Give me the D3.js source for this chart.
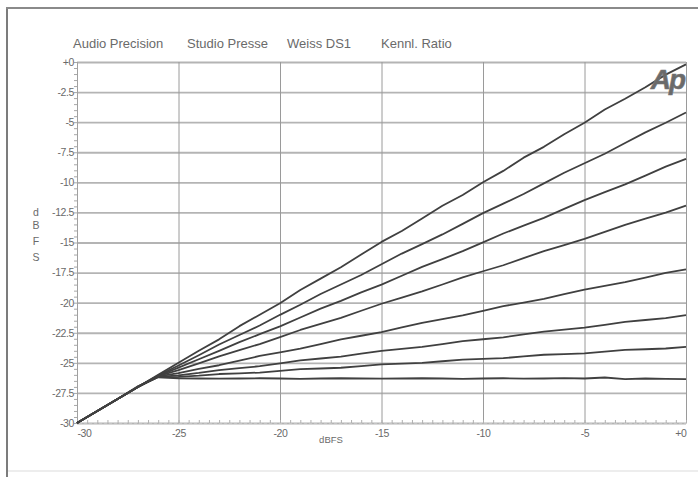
<!DOCTYPE html>
<html>
<head>
<meta charset="utf-8">
<script src="https://cdn.jsdelivr.net/npm/d3@7"></script>
<style>
  body { margin: 0; background: #fff; }
  text { font-family: "Liberation Sans", Arial, sans-serif; fill: #6a6a6a; }
</style>
</head>
<body>
<div id="chart"></div>
<script>
// input level (dBFS) at which every curve was read
const inputLevel = [-30, -29, -28, -27, -26, -25, -24, -23, -22, -21, -20, -19, -18, -17, -16,
  -15, -14, -13, -12, -11, -10, -9, -8, -7, -6, -5, -4, -3, -2, -1, 0];

// output level (dBFS) of each ratio curve, top to bottom
const curve1 = [-30, -29, -28, -27, -26, -25, -24, -23.05, -21.95, -21, -20.05, -18.95, -18, -17.05, -16,
  -14.95, -14.05, -13, -11.95, -11.05, -10, -9.05, -7.95, -7.05, -6, -5.05, -3.95, -3.05, -2.1, -1.05, -0.2];
const curve2 = [-30, -29, -28, -27, -26.05, -25.22, -24.37, -23.48, -22.69, -21.9, -21.01, -20.17, -19.28, -18.49, -17.7,
  -16.81, -15.92, -15.13, -14.33, -13.45, -12.56, -11.77, -10.97, -10.09, -9.2, -8.41, -7.62, -6.73, -5.85, -5.05, -4.2];
const curve3 = [-30, -29, -28, -27, -26.08, -25.4, -24.7, -24.01, -23.28, -22.62, -21.97, -21.23, -20.5, -19.85, -19.15,
  -18.5, -17.76, -17.03, -16.38, -15.72, -14.99, -14.25, -13.6, -12.95, -12.21, -11.48, -10.82, -10.17, -9.44, -8.7, -8.05];
const curve4 = [-30, -29, -28, -27, -26.1, -25.6, -25.04, -24.46, -23.95, -23.44, -22.86, -22.27, -21.76, -21.26, -20.67,
  -20.09, -19.58, -19.07, -18.49, -17.9, -17.39, -16.89, -16.3, -15.71, -15.21, -14.7, -14.12, -13.53, -13.02, -12.52, -11.93];
const curve5 = [-30, -29, -28, -27, -26.13, -25.86, -25.51, -25.2, -24.82, -24.43, -24.13, -23.82, -23.44, -23.05, -22.75,
  -22.44, -22.06, -21.67, -21.37, -21.06, -20.68, -20.29, -19.99, -19.68, -19.3, -18.91, -18.61, -18.3, -17.92, -17.53, -17.23];
const curve6 = [-30, -29, -28, -27, -26.16, -26.04, -25.84, -25.6, -25.44, -25.28, -25.04, -24.8, -24.64, -24.48, -24.24,
  -24, -23.84, -23.68, -23.44, -23.2, -23.04, -22.88, -22.64, -22.4, -22.24, -22.08, -21.84, -21.6, -21.44, -21.28, -21.04];
const curve7 = [-30, -29, -28, -27, -26.18, -26.16, -26.07, -25.93, -25.87, -25.81, -25.67, -25.53, -25.47, -25.41, -25.27,
  -25.13, -25.07, -25.01, -24.87, -24.73, -24.67, -24.61, -24.47, -24.33, -24.27, -24.21, -24.07, -23.93, -23.87, -23.81, -23.67];
const curve8 = [-30, -29, -28, -26.95, -26.2, -26.28, -26.3, -26.32, -26.3, -26.28, -26.3, -26.33, -26.3, -26.28, -26.3,
  -26.32, -26.3, -26.28, -26.3, -26.33, -26.3, -26.28, -26.31, -26.3, -26.27, -26.3, -26.22, -26.36, -26.3, -26.33, -26.35];
const curves = [curve1, curve2, curve3, curve4, curve5, curve6, curve7, curve8];

// axis ticks
const xTicks = [-30, -25, -20, -15, -10, -5, 0];
const xTickLabels = ['-30', '-25', '-20', '-15', '-10', '-5', '+0'];
const yTicks = [0, -2.5, -5, -7.5, -10, -12.5, -15, -17.5, -20, -22.5, -25, -27.5, -30];
const yTickLabels = ['+0', '-2.5', '-5', '-7.5', '-10', '-12.5', '-15', '-17.5', '-20', '-22.5', '-25', '-27.5', '-30'];
const minorTicks = d3.range(-30, 0.01, 0.5);

const titleParts = ['Audio Precision', 'Studio Presse', 'Weiss DS1', 'Kennl. Ratio'];
const xLabel = 'dBFS';
const yLabel = ['d', 'B', 'F', 'S'];

const W = 698, H = 477;
const margin = { top: 62, right: 12, bottom: 54, left: 77 };
const width = W - margin.left - margin.right;
const height = H - margin.top - margin.bottom;

const svg = d3.select('#chart').append('svg')
  .attr('width', W)
  .attr('height', H);

// outer frame of the scanned plot (left/top heavier, bottom faint)
svg.append('line').attr('x1', 7).attr('y1', 8).attr('x2', 7).attr('y2', 477)
  .attr('stroke', '#7c7c7c').attr('stroke-width', 2);
svg.append('line').attr('x1', 6).attr('y1', 8).attr('x2', 698).attr('y2', 8)
  .attr('stroke', '#8a8a8a').attr('stroke-width', 1.8);
svg.append('line').attr('x1', 8).attr('y1', 471).attr('x2', 698).attr('y2', 471)
  .attr('stroke', '#dcdcdc').attr('stroke-width', 1.2);

const g = svg.append('g')
  .attr('transform', `translate(${margin.left},${margin.top})`);

const x = d3.scaleLinear().domain([-30, 0]).range([0, width]);
const y = d3.scaleLinear().domain([-30, 0]).range([height, 0]);

// horizontal grid
g.append('g')
  .call(d3.axisLeft(y).tickValues(yTicks).tickSize(-width).tickFormat(''))
  .call((sel) => sel.select('.domain').remove())
  .selectAll('line')
  .attr('stroke', '#b4b4b4')
  .attr('stroke-width', 1.8);

// vertical grid
g.append('g')
  .attr('transform', `translate(0,${height})`)
  .call(d3.axisBottom(x).tickValues(xTicks).tickSize(-height).tickFormat(''))
  .call((sel) => sel.select('.domain').remove())
  .selectAll('line')
  .attr('stroke', '#9a9a9a')
  .attr('stroke-width', 1);

// minor ticks on the left axis
g.append('g')
  .call(d3.axisLeft(y).tickValues(minorTicks).tickSize(3).tickFormat(''))
  .call((sel) => sel.select('.domain').attr('stroke', '#a0a0a0'))
  .selectAll('line')
  .attr('stroke', '#a8a8a8');

// minor ticks along the bottom
g.append('g')
  .attr('transform', `translate(0,${height})`)
  .call(d3.axisTop(x).tickValues(minorTicks).tickSize(3).tickFormat(''))
  .call((sel) => sel.select('.domain').attr('stroke', '#c4c4c4').attr('stroke-dasharray', '3,2'))
  .selectAll('line')
  .attr('stroke', '#b0b0b0');

// y tick labels
const yAxisG = g.append('g')
  .call(d3.axisLeft(y).tickValues(yTicks).tickSize(0).tickPadding(3)
    .tickFormat((d, i) => yTickLabels[i]));
yAxisG.select('.domain').remove();
yAxisG.selectAll('text')
  .style('font-size', '10.5px')
  .attr('fill', '#6a6a6a')
  .attr('letter-spacing', '-0.4');

// x tick labels
const xAxisG = g.append('g')
  .attr('transform', `translate(0,${height})`)
  .call(d3.axisBottom(x).tickValues(xTicks).tickSize(0).tickPadding(7)
    .tickFormat((d, i) => xTickLabels[i]));
xAxisG.select('.domain').remove();
xAxisG.selectAll('text')
  .style('font-size', '10.5px')
  .attr('fill', '#6a6a6a')
  .attr('letter-spacing', '-0.4')
  .attr('text-anchor', (d, i) => (i === 0 ? 'start' : i === xTicks.length - 1 ? 'end' : 'middle'));

// curves
const line = d3.line()
  .x((d, i) => x(inputLevel[i]))
  .y((d) => y(d));

g.selectAll('.curve')
  .data(curves)
  .join('path')
  .attr('class', 'curve')
  .attr('d', line)
  .attr('fill', 'none')
  .attr('stroke', '#404040')
  .attr('stroke-width', 1.8)
  .attr('stroke-linejoin', 'round');

// title, one piece per field as on the analyser printout
const titleX = [73, 187, 287, 381];
svg.selectAll('.title')
  .data(titleParts)
  .join('text')
  .attr('class', 'title')
  .attr('x', (d, i) => titleX[i])
  .attr('y', 48)
  .style('font-size', '13px')
  .attr('fill', '#707070')
  .text((d) => d);

// axis labels
svg.append('text')
  .attr('x', 331).attr('y', 443)
  .attr('text-anchor', 'middle')
  .style('font-size', '9.5px')
  .text(xLabel);

const yLabelPos = [216, 229, 245, 261];
svg.selectAll('.ylab')
  .data(yLabel)
  .join('text')
  .attr('class', 'ylab')
  .attr('x', 36)
  .attr('y', (d, i) => yLabelPos[i])
  .attr('text-anchor', 'middle')
  .style('font-size', '10.5px')
  .text((d) => d);

// Ap logo
svg.append('text')
  .attr('x', 684).attr('y', 89)
  .attr('text-anchor', 'end')
  .style('font-size', '28px')
  .style('font-style', 'italic')
  .style('font-weight', 'bold')
  .attr('fill', '#9a9a9a')
  .attr('stroke', '#777')
  .attr('stroke-width', 0.6)
  .attr('letter-spacing', '-2')
  .text('Ap');
</script>
</body>
</html>
